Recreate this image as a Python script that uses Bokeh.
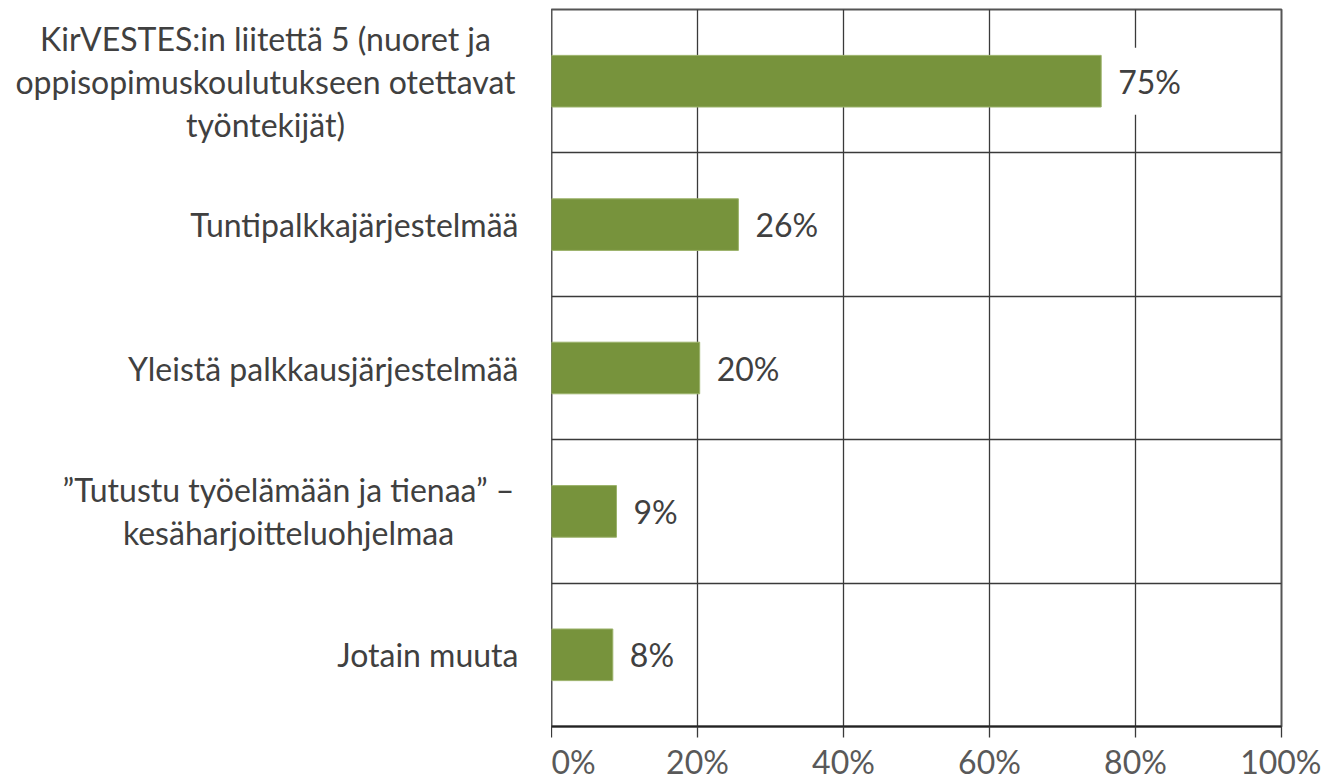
from bokeh.plotting import figure
from bokeh.layouts import row
from bokeh.models import ColumnDataSource, FixedTicker, Range1d
from bokeh.core.properties import value
from bokeh.embed import file_html
from bokeh.resources import INLINE

categories = [
    "KirVESTES:in liitettä 5 (nuoret ja\noppisopimuskoulutukseen otettavat\ntyöntekijät)",
    "Tuntipalkkajärjestelmää",
    "Yleistä palkkausjärjestelmää",
    "\u201dTutustu työelämään ja tienaa\u201d \u2013\nkesäharjoitteluohjelmaa",
    "Jotain muuta",
]
values = [75.3, 25.6, 20.3, 8.9, 8.4]
value_labels = ["75%", "26%", "20%", "9%", "8%"]
x_ticks = [0, 20, 40, 60, 80, 100]

FONT = "Lato"
FS = "32px"
n = len(categories)
ypos = [n - i - 0.5 for i in range(n)]

H = 783
TOP = 9
BOTTOM = 57
LW = 551

lab_x = []
lab_align = []
for c in categories:
    if "\n" in c:
        lab_align.append("center")
        lab_x.append(0)
    else:
        lab_align.append("right")
        lab_x.append(518)
lab_x[0] = 265
lab_x[3] = 288

left = figure(width=LW, height=H, output_backend="svg", toolbar_location=None,
              x_range=Range1d(0, LW), y_range=Range1d(0, n),
              min_border_top=TOP, min_border_bottom=BOTTOM, min_border_left=0, min_border_right=0)
left.axis.visible = False
left.grid.visible = False
left.outline_line_color = None
src_l = ColumnDataSource(dict(x=lab_x, y=ypos, t=categories, a=lab_align))
left.text(x="x", y="y", text="t", text_align="a", text_baseline="middle",
          text_font=value(FONT), text_font_size=FS, text_color="#404040",
          text_line_height=1.1, source=src_l)

p = figure(width=1321 - LW, height=H, output_backend="svg", toolbar_location=None,
           x_range=Range1d(0, 100), y_range=Range1d(0, n),
           min_border_top=TOP, min_border_bottom=BOTTOM, min_border_left=0, min_border_right=40)
src = ColumnDataSource(dict(y=ypos, v=values, lab=value_labels))

p.yaxis.visible = False
p.ygrid.ticker = FixedTicker(ticks=[1, 2, 3, 4])
p.ygrid.grid_line_color = "#3a3a3a"
p.ygrid.grid_line_width = 1.3
p.xgrid.ticker = FixedTicker(ticks=x_ticks)
p.xgrid.grid_line_color = "#3a3a3a"
p.xgrid.grid_line_width = 1.3

p.hbar(y="y", right="v", left=0, height=0.36, fill_color="#77933C",
       line_color="#9BB26A", line_width=1, source=src)
p.text(x="v", y="y", text="lab", x_offset=15, text_align="left", text_baseline="middle",
       text_font=value(FONT), text_font_size=FS, text_color="#404040",
       background_fill_color="white", padding=(2, 14), source=src)

p.xaxis.ticker = FixedTicker(ticks=x_ticks)
p.xaxis.major_label_overrides = {t: f"{t}%" for t in x_ticks}
p.xaxis.minor_tick_line_color = None
p.xaxis.major_tick_in = 0
p.xaxis.major_tick_out = 11
p.xaxis.major_tick_line_color = "#3a3a3a"
p.xaxis.major_tick_line_width = 1.3
p.xaxis.axis_line_color = "#222222"
p.xaxis.axis_line_width = 2
p.xaxis.major_label_standoff = 4
p.xaxis.major_label_text_line_height = 1.0
p.xaxis.major_label_text_font = FONT
p.xaxis.major_label_text_font_size = FS
p.xaxis.major_label_text_color = "#595959"

p.outline_line_color = "#555555"
p.outline_line_width = 2
p.outline_line_alpha = 1

layout = row(left, p, spacing=0)
open("out.html", "w").write(file_html(layout, INLINE))
